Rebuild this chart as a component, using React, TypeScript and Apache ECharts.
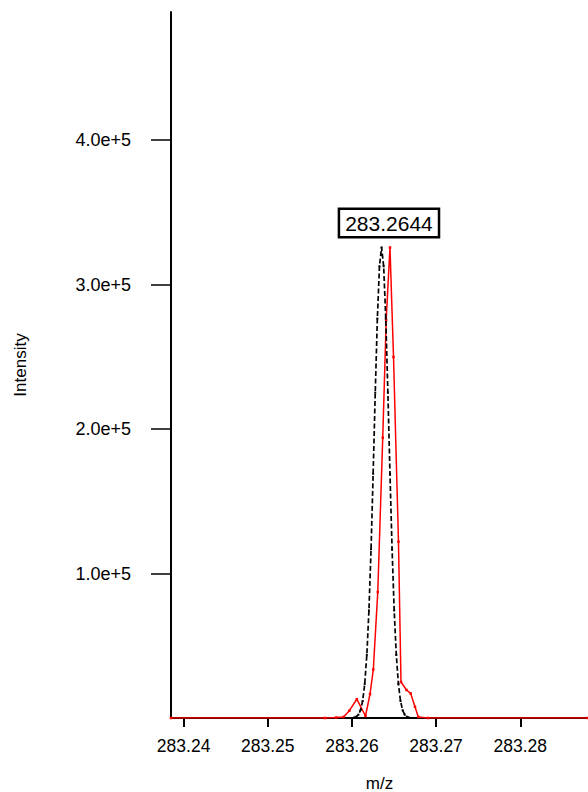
import React, { useEffect, useRef } from "react";
import * as echarts from "echarts";

// Axis ticks
const xTickValues = [283.24, 283.25, 283.26, 283.27, 283.28];
const yTickValues = [100000, 200000, 300000, 400000];

// Peak annotation
const peakLabel = "283.2644";
const peakLabelMz = 283.2644;
const peakLabelIntensity = 325600;

// Measured profile (red)
const measuredMz = [
  283.2385, 283.2568, 283.25811, 283.259, 283.25969, 283.26058, 283.26161, 283.26215,
  283.26254, 283.26307, 283.26366, 283.26407, 283.26452, 283.26494, 283.26553, 283.26583,
  283.26648, 283.26698, 283.26749, 283.26789, 283.26904, 283.28805,
];
const measuredIntensity = [
  0, 0, 350, 700, 5050, 13000, 1400, 16600,
  33600, 87200, 194000, 275400, 325600, 249800, 122000, 24900,
  19400, 17000, 7800, 700, 0, 0,
];

// Theoretical profile (black dashed)
const theoreticalMz = [
  283.26027, 283.26052, 283.26077, 283.26102, 283.26127, 283.26152, 283.26177, 283.26202,
  283.26227, 283.26252, 283.26277, 283.26302, 283.26327, 283.26352, 283.26377, 283.26402,
  283.26427, 283.26452, 283.26477, 283.26502, 283.26527, 283.26552, 283.26577, 283.26602,
  283.26627, 283.26652, 283.26677,
];
const theoreticalIntensity = [
  319, 888, 2281, 5395, 11756, 23612, 43676, 74432,
  116848, 169006, 225189, 276432, 312616, 325700, 312616, 276432,
  225189, 169006, 116848, 74432, 43676, 23612, 11756, 5395,
  2281, 888, 319,
];

const FONT = "'Liberation Sans', Arial, Helvetica, sans-serif";

export default function App() {
  const ref = useRef<HTMLDivElement>(null);

  useEffect(() => {
    if (!ref.current) return;
    const chart = echarts.init(ref.current, null, { renderer: "svg" });
    const measured = measuredMz.map((m, i) => [m, measuredIntensity[i]]);
    const theoretical = theoreticalMz.map((m, i) => [m, theoreticalIntensity[i]]);

    chart.setOption({
      animation: false,
      backgroundColor: "#ffffff",
      textStyle: { fontFamily: FONT },
      grid: {
        left: 171,
        top: 12,
        width: 417,
        height: 706,
        containLabel: false,
        outerBoundsMode: "none",
      },
      xAxis: {
        type: "value",
        min: 283.2385,
        max: 283.28805,
        name: "m/z",
        nameLocation: "middle",
        nameGap: 58,
        nameTextStyle: { fontSize: 17, lineHeight: 14, color: "#000", fontFamily: FONT },
        axisLine: { show: true, onZero: false, lineStyle: { color: "#000", width: 2 } },
        axisTick: {
          show: true,
          length: 9,
          customValues: xTickValues,
          lineStyle: { color: "#000", width: 2 },
        },
        axisLabel: {
          customValues: xTickValues,
          margin: 19,
          fontSize: 17.5,
          color: "#000",
          fontFamily: FONT,
          formatter: (v: number) => v.toFixed(2),
        },
        splitLine: { show: false },
      },
      yAxis: {
        type: "value",
        min: 0,
        max: 488600,
        name: "Intensity",
        nameLocation: "middle",
        nameRotate: 90,
        nameGap: 142,
        nameTextStyle: { fontSize: 17, color: "#000", fontFamily: FONT },
        axisLine: { show: true, lineStyle: { color: "#000", width: 2 } },
        axisTick: {
          show: true,
          length: 20,
          customValues: yTickValues,
          lineStyle: { color: "#000", width: 1.5 },
        },
        axisLabel: {
          customValues: yTickValues,
          margin: 40,
          fontSize: 18,
          color: "#000",
          fontFamily: FONT,
          formatter: (v: number) => (v / 100000).toFixed(1) + "e+5",
        },
        splitLine: { show: false },
      },
      series: [
        {
          name: "Measured",
          type: "line",
          data: measured,
          symbol: "rect",
          symbolSize: 2.5,
          showSymbol: true,
          showAllSymbol: true,
          lineStyle: { color: "#ff0000", width: 1.5 },
          itemStyle: { color: "#ff0000" },
          z: 3,
          markPoint: {
            symbol: "circle",
            symbolSize: 1,
            itemStyle: { color: "rgba(0,0,0,0)" },
            data: [
              {
                coord: [peakLabelMz, peakLabelIntensity],
                label: {
                  show: true,
                  position: "top",
                  distance: 11,
                  formatter: peakLabel,
                  fontSize: 21,
                  lineHeight: 22,
                  color: "#000",
                  fontFamily: FONT,
                  backgroundColor: "#fff",
                  borderColor: "#000",
                  borderWidth: 2.5,
                  padding: [2, 5, 2, 5],
                },
              },
            ],
          },
        },
        {
          name: "Theoretical",
          type: "line",
          data: theoretical,
          symbol: "rect",
          symbolSize: 2,
          showSymbol: true,
          showAllSymbol: true,
          lineStyle: { color: "#000", width: 1.7, type: [5, 2.5] },
          itemStyle: { color: "#000" },
          z: 4,
        },
      ],
    });

    return () => chart.dispose();
  }, []);

  return (
    <div
      ref={ref}
      style={{ position: "absolute", left: 0, top: 0, width: 588, height: 792, background: "#fff" }}
    />
  );
}
